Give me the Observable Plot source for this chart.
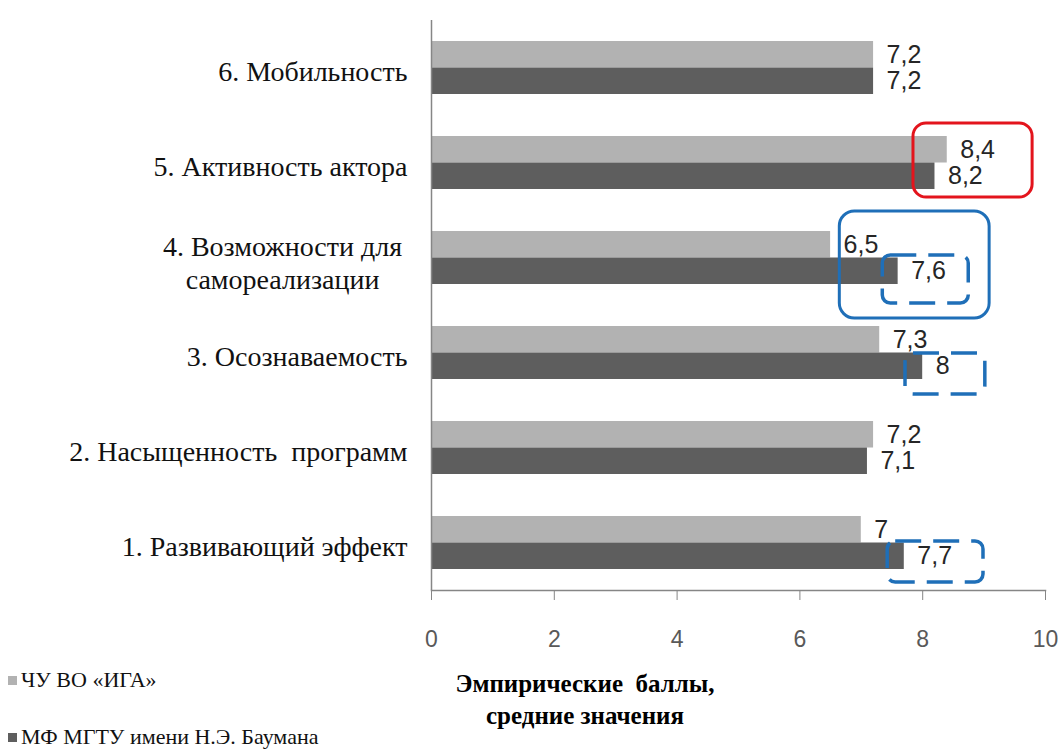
<!DOCTYPE html>
<html>
<head>
<meta charset="utf-8">
<script src="https://cdn.jsdelivr.net/npm/d3@7"></script>
<script src="https://cdn.jsdelivr.net/npm/@observablehq/plot@0.6"></script>
<style>
  html, body { margin: 0; padding: 0; background: #fff; }
  #wrap { position: relative; width: 1061px; height: 753px; overflow: hidden; }
  #chart { position: absolute; left: 0; top: 0; }
  .serif { font-family: "Liberation Serif", "DejaVu Serif", "Noto Serif", "Times New Roman", serif !important; }
  .leg { position: absolute; left: 8px; font-size: 22px; color: #111; display: flex; align-items: center; white-space: nowrap; }
  .leg .sw { width: 9px; height: 9px; margin-right: 4px; display: inline-block; }
  #xtitle { position: absolute; left: 385px; width: 400px; top: 668px; text-align: center; font-weight: bold; font-size: 25px; line-height: 32px; color: #000; }
</style>
</head>
<body>
<div id="wrap">
  <div id="chart"></div>
  <div id="legend"></div>
  <div id="xtitle" class="serif"></div>
</div>
<script>
// Categories (top to bottom as drawn)
const categories = [
  "6. Мобильность",
  "5. Активность актора",
  "4. Возможности для\nсамореализации",
  "3. Осознаваемость",
  "2. Насыщенность  программ",
  "1. Развивающий эффект"
];
const seriesNames = ["ЧУ ВО «ИГА»", "МФ МГТУ имени Н.Э. Баумана"];
const valuesIGA    = [7.2, 8.4, 6.5, 7.3, 7.2, 7.0];
const valuesBauman = [7.2, 8.2, 7.6, 8.0, 7.1, 7.7];
const xTicks = [0, 2, 4, 6, 8, 10];
const axisTitle = ["Эмпирические  баллы,", "средние значения"];
const colors = ["#b2b2b2", "#5e5e5e"];

// Annotation boxes (x extents in data units)
const redBox = [{cat: categories[1], x1: 7.85, x2: 9.79}];
const blueBox = [{cat: categories[2], x1: 6.65, x2: 9.09}];
const dashBox4 = [{cat: categories[2], x1: 7.35, x2: 8.75}];
const dashBox3 = [{cat: categories[3], x1: 7.72, x2: 9.02}];
const dashBox1 = [{cat: categories[5], x1: 7.43, x2: 8.99}];

const rowsA = categories.map((c, i) => ({cat: c, value: valuesIGA[i]}));
const rowsB = categories.map((c, i) => ({cat: c, value: valuesBauman[i]}));
const fmt = v => String(v).replace(".", ",");

const singleLine = categories.filter(c => !c.includes("\n"));
const multiLine = categories.filter(c => c.includes("\n"));
const SERIF = "'Liberation Serif', 'DejaVu Serif', 'Noto Serif', 'Times New Roman', serif";
const SANS = "'Liberation Sans', Arial, sans-serif";

const chart = Plot.plot({
  width: 1061,
  height: 660,
  marginLeft: 431,
  marginRight: 16,
  marginTop: 20,
  marginBottom: 70,
  x: {domain: [0, 10]},
  y: {domain: categories, padding: 0, axis: null},
  style: {background: "#fff"},
  marks: [
    Plot.barX(rowsA, {y: "cat", x: "value", fill: colors[0], insetTop: 21, insetBottom: 47.5}),
    Plot.barX(rowsB, {y: "cat", x: "value", fill: colors[1], insetTop: 47.5, insetBottom: 21}),
    Plot.ruleX([0], {stroke: "#868686", strokeWidth: 1.5}),
    Plot.frame({anchor: "bottom", stroke: "#868686", strokeWidth: 1.5}),
    Plot.axisX({ticks: xTicks, tickSize: 10, tickPadding: 30, stroke: "#868686",
      tickFormat: d => String(d), fontSize: 23, fill: "#595959",
      fontFamily: SANS, label: null}),
    // category labels
    Plot.text(singleLine, {y: d => d, text: d => d, frameAnchor: "left", dx: -24, dy: 4,
      textAnchor: "end", fontSize: 28, fill: "#111", fontFamily: SERIF, className: "serif"}),
    Plot.text(multiLine, {y: d => d, text: d => d, frameAnchor: "left", dx: -149, dy: 4,
      textAnchor: "middle", lineHeight: 1.18, fontSize: 28, fill: "#111", fontFamily: SERIF, className: "serif"}),
    // value labels
    Plot.text(rowsA, {y: "cat", x: "value", text: d => fmt(d.value), dx: 13, dy: -13,
      textAnchor: "start", fontSize: 25, fill: "#262626", fontFamily: SANS}),
    Plot.text(rowsB, {y: "cat", x: "value", text: d => fmt(d.value), dx: 13, dy: 13,
      textAnchor: "start", fontSize: 25, fill: "#262626", fontFamily: SANS}),
    // annotations
    Plot.rect(redBox, {y: "cat", x1: "x1", x2: "x2", insetTop: 8, insetBottom: 13, rx: 13,
      fill: "none", stroke: "#e3141c", strokeWidth: 3}),
    Plot.rect(blueBox, {y: "cat", x1: "x1", x2: "x2", insetTop: 1, insetBottom: -13, rx: 15,
      fill: "none", stroke: "#1f6fb8", strokeWidth: 3}),
    Plot.rect(dashBox4, {y: "cat", x1: "x1", x2: "x2", insetTop: 45, insetBottom: 2, rx: 8,
      fill: "none", stroke: "#1f6fb8", strokeWidth: 3.5, strokeDasharray: "26,12"}),
    Plot.rect(dashBox3, {y: "cat", x1: "x1", x2: "x2", insetTop: 48, insetBottom: 6, rx: 8,
      fill: "none", stroke: "#1f6fb8", strokeWidth: 3.5, strokeDasharray: "26,12"}),
    Plot.rect(dashBox1, {y: "cat", x1: "x1", x2: "x2", insetTop: 46, insetBottom: 8, rx: 8,
      fill: "none", stroke: "#1f6fb8", strokeWidth: 3.5, strokeDasharray: "26,12"})
  ]
});
document.getElementById("chart").appendChild(chart);
chart.querySelectorAll("g.serif, g.serif text").forEach(el => el.style.fontFamily = SERIF);

// Legend
const legend = document.getElementById("legend");
const legTops = [667, 724];
seriesNames.forEach((name, i) => {
  const div = document.createElement("div");
  div.className = "leg serif";
  div.style.top = legTops[i] + "px";
  const sw = document.createElement("span");
  sw.className = "sw";
  sw.style.background = colors[i];
  const t = document.createElement("span");
  t.textContent = name;
  div.appendChild(sw);
  div.appendChild(t);
  legend.appendChild(div);
});
document.getElementById("xtitle").innerHTML = axisTitle.map(s => s.replace(/ /g, "&nbsp;")).join("<br>");
</script>
</body>
</html>
